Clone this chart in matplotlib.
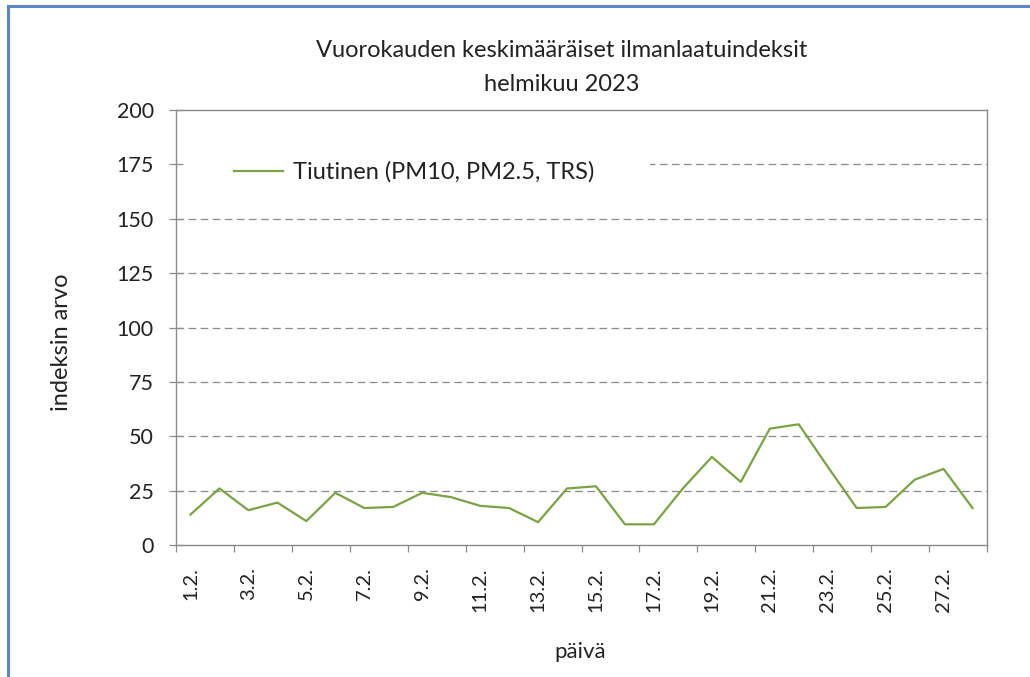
import matplotlib
matplotlib.use("Agg")
import matplotlib.pyplot as plt
from matplotlib.lines import Line2D
from matplotlib.patches import Rectangle
from matplotlib.ticker import FixedLocator, NullFormatter

plt.rcParams['font.family'] = ['Lato', 'DejaVu Sans']
plt.rcParams['lines.scale_dashes'] = False

days = list(range(1, 29))
day_labels = [f"{d}.2." for d in days]
values = [14, 26, 16, 19.5, 11, 24, 17, 17.5, 24, 22, 18, 17, 10.5, 26, 27,
          9.5, 9.5, 26, 40.5, 29, 53.5, 55.5, 36, 17, 17.5, 30, 35, 17]
series_name = "Tiutinen (PM10, PM2.5, TRS)"
title = "Vuorokauden keskimääräiset ilmanlaatuindeksit\nhelmikuu 2023"
xlabel = "päivä"
ylabel = "indeksin arvo"
yticks = [0, 25, 50, 75, 100, 125, 150, 175, 200]

W, H = 1030, 677
fig = plt.figure(figsize=(W / 100, H / 100), dpi=100)
ax = fig.add_axes([176 / W, 1 - 545 / H, (987 - 176) / W, (545 - 110) / H])

line_color = '#7BA344'
axis_color = '#8C8C8C'
text_color = '#222222'

ax.plot(days, values, color=line_color, lw=1.6, label=series_name, zorder=3)

ax.set_xlim(0.5, 28.5)
ax.set_ylim(0, 200)
ax.set_yticks(yticks)
ax.set_yticklabels([str(v) for v in yticks], fontsize=15.5, color=text_color)
for v in yticks[1:-1]:
    ax.axhline(v, color='#8A8A8A', lw=0.9, ls=(0, (5.5, 3.2)), zorder=1)

# labels on odd days, tick marks at category boundaries
ax.xaxis.set_major_locator(FixedLocator(days[::2]))
ax.set_xticklabels(day_labels[::2], rotation=90, fontsize=14.5, color=text_color)
ax.tick_params(axis='x', which='major', length=0, pad=16)
ax.xaxis.set_minor_locator(FixedLocator([d - 0.5 for d in days[::2]] + [28.5]))
ax.xaxis.set_minor_formatter(NullFormatter())
ax.tick_params(axis='x', which='minor', length=5, width=0.9, color=axis_color, direction='out')
ax.tick_params(axis='y', which='major', length=10, width=0.9, color=axis_color, direction='inout', pad=11)

for s in ax.spines.values():
    s.set_color(axis_color)
    s.set_linewidth(1.0)

ax.set_title(title, fontsize=17, color=text_color, pad=14, linespacing=1.75,
             x=(562 - 176) / 811)
ax.set_xlabel(xlabel, fontsize=16, color=text_color)
ax.xaxis.set_label_coords((580 - 176) / 811, (545 - 652) / 435)
ax.set_ylabel(ylabel, fontsize=17, color=text_color)
ax.yaxis.set_label_coords((62 - 176) / 811, (545 - 342) / 435)
ax.xaxis.label.set_va('center')
ax.yaxis.label.set_va('center')

# white legend area masking the gridline
ax.add_patch(Rectangle((0.003, 0.835), (650 - 176) / 811 - 0.003, 0.075, transform=ax.transAxes,
                       facecolor='white', edgecolor='none', zorder=1.5))
leg = ax.legend(loc='center left', bbox_to_anchor=((234 - 176) / 811, 0.857),
                frameon=False, fontsize=17, handlelength=2.08, handletextpad=0.4,
                borderpad=0, borderaxespad=0)
leg.set_zorder(2)
for t in leg.get_texts():
    t.set_color(text_color)

# outer chart frame (blue), cropped at right and bottom
fig.add_artist(Line2D([8 / W, 8 / W], [0, 1 - 6 / H], transform=fig.transFigure, color='#5B87C9', lw=2.2))
fig.add_artist(Line2D([8 / W, 1], [1 - 6 / H, 1 - 6 / H], transform=fig.transFigure, color='#5B87C9', lw=2.2))

fig.savefig("out.png", dpi=100)
